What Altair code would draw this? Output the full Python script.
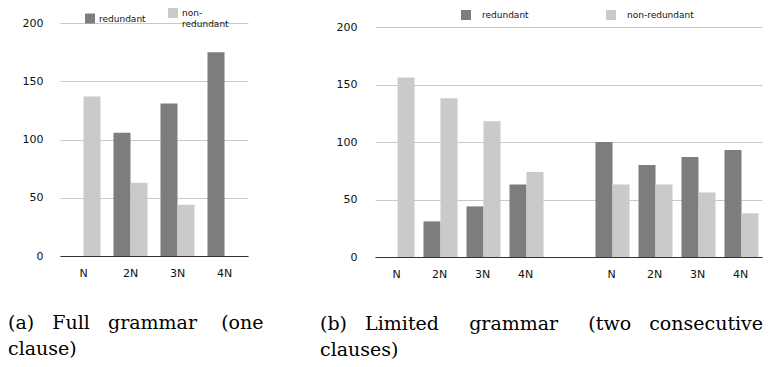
import altair as alt
import pandas as pd

# ---- data ----
series = ["redundant", "non-redundant"]
colors = ["#7c7d7c", "#c9cac9"]
y_ticks = [0, 50, 100, 150, 200]

a_categories = ["N", "2N", "3N", "4N"]
a_redundant = [0, 106, 131, 175]
a_nonredundant = [137, 63, 44, 0]

b_categories = ["N", "2N", "3N", "4N"]
b_first_redundant = [0, 31, 44, 63]
b_first_nonredundant = [156, 138, 118, 74]
b_second_redundant = [100, 80, 87, 93]
b_second_nonredundant = [63, 63, 56, 38]

NB = "\u00a0"
caption_a = ["(a)" + NB * 3 + "Full" + NB * 3 + "grammar" + NB * 4 + "(one", "clause)"]
caption_b = ["(b)" + NB * 3 + "Limited" + NB * 5 + "grammar" + NB * 5 + "(two" + NB * 3 + "consecutive",
             "clauses)"]

# ---- tables ----
rows_a = []
for c, r, n in zip(a_categories, a_redundant, a_nonredundant):
    rows_a.append({"slot": c, "series": "redundant", "value": r})
    rows_a.append({"slot": c, "series": "non-redundant", "value": n})
df_a = pd.DataFrame(rows_a)
domain_a = a_categories

rows_b = []
for c, r, n in zip(b_categories, b_first_redundant, b_first_nonredundant):
    rows_b.append({"slot": "a" + c, "series": "redundant", "value": r})
    rows_b.append({"slot": "a" + c, "series": "non-redundant", "value": n})
for c, r, n in zip(b_categories, b_second_redundant, b_second_nonredundant):
    rows_b.append({"slot": "b" + c, "series": "redundant", "value": r})
    rows_b.append({"slot": "b" + c, "series": "non-redundant", "value": n})
df_b = pd.DataFrame(rows_b)
domain_b = ["a" + c for c in b_categories] + ["gap"] + ["b" + c for c in b_categories]

LABEL_FONT = "DejaVu Sans"
SERIF = "DejaVu Serif"


def panel(df, domain, label_expr, width, height, ymax, pad_inner, y_label_pad,
          legend, caption, caption_dx):
    return alt.Chart(df).mark_bar().encode(
        x=alt.X("slot:N",
                scale=alt.Scale(domain=domain, paddingInner=pad_inner,
                                paddingOuter=pad_inner / 2),
                axis=alt.Axis(title=None, labelAngle=0, ticks=False, tickSize=0,
                              domain=True, domainColor="#333333", domainWidth=1,
                              grid=False, labelExpr=label_expr, labelPadding=11,
                              labelFont=LABEL_FONT, labelFontSize=11,
                              labelColor="#111111")),
        xOffset=alt.XOffset("series:N",
                            scale=alt.Scale(domain=series, paddingInner=0, paddingOuter=0)),
        y=alt.Y("value:Q",
                scale=alt.Scale(domain=[0, ymax], nice=False, zero=True),
                axis=alt.Axis(title=None, values=y_ticks, ticks=False, tickSize=0,
                              domain=False, grid=True, gridColor="#c8c8c8", gridWidth=1,
                              labelPadding=y_label_pad, labelFont=LABEL_FONT,
                              labelFontSize=11, labelColor="#111111")),
        color=alt.Color("series:N", scale=alt.Scale(domain=series, range=colors),
                        legend=legend),
    ).properties(
        width=width, height=height,
        title=alt.TitleParams(text=caption, orient="bottom", anchor="start", frame="group",
                              dx=caption_dx, offset=36, font=SERIF, fontSize=19,
                              fontWeight="normal", color="black", lineHeight=26),
    )


legend_a = alt.Legend(title=None, orient="none", legendX=25, legendY=-12,
                      direction="horizontal", symbolType="square", symbolSize=100,
                      symbolStrokeWidth=0, labelFont=LABEL_FONT, labelFontSize=9,
                      labelColor="#111111", labelOffset=4, columnPadding=22, padding=0,
                      labelExpr="datum.label == 'non-redundant' ? ['non-', 'redundant'] : datum.label")

legend_b = alt.Legend(title=None, orient="none", legendX=86, legendY=-10,
                      direction="horizontal", symbolType="square", symbolSize=100,
                      symbolStrokeWidth=0, labelFont=LABEL_FONT, labelFontSize=9,
                      labelColor="#111111", labelOffset=11, columnPadding=77, padding=0)

chart_a = panel(df_a, domain_a, "datum.value", 188, 236, 202.8, 13 / 47, 17,
                legend_a, caption_a, -52)
chart_b = panel(df_b, domain_b, "datum.value == 'gap' ? '' : slice(datum.value, 1)",
                387, 237, 206.1, 11 / 43, 18, legend_b, caption_b, -55)

chart = alt.hconcat(chart_a, chart_b, spacing=127, bounds="flush").resolve_scale(
    color="independent", x="independent", y="independent"
).resolve_legend(color="independent").configure_view(stroke=None).properties(
    padding={"left": 0, "top": 0, "right": 0, "bottom": 0}
)

chart.save("out.html", embed_options={"renderer": "svg", "actions": False})
